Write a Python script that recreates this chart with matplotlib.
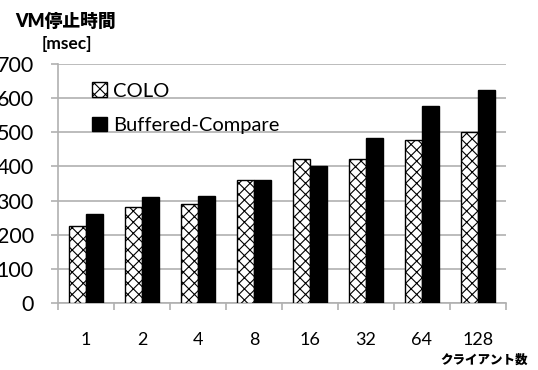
import numpy as np
import matplotlib.pyplot as plt
from matplotlib.patches import Patch

plt.rcParams['font.family'] = ['Lato', 'Noto Sans CJK JP', 'DejaVu Sans']
plt.rcParams['hatch.linewidth'] = 0.8

clients = ['1', '2', '4', '8', '16', '32', '64', '128']
colo = [226, 281, 289, 360, 421, 421, 478, 500]
buffered = [261, 309, 313, 360, 401, 482, 578, 625]

fig = plt.figure(figsize=(5.38, 3.70), dpi=100)
ax = fig.add_axes([58/538, 1-303/370, 448/538, 239/370])

x = np.arange(len(clients))
w = 0.3
ax.bar(x - w/2, colo, w, color='white', edgecolor='black', hatch='xxx', linewidth=1, label='COLO', zorder=3)
ax.bar(x + w/2, buffered, w, color='black', edgecolor='black', linewidth=1, label='Buffered-Compare', zorder=3)

ax.set_xlim(-0.5, len(clients) - 0.5)
ax.set_ylim(0, 700)
ax.set_yticks(range(0, 701, 100))
ax.yaxis.grid(True, color='#b0b0b0', linewidth=1.2, zorder=0)
ax.set_xticks(x)
ax.set_xticklabels(clients, fontsize=13)
ax.set_xticks(np.arange(-0.5, len(clients)), minor=True)
ax.tick_params(axis='x', which='major', length=0, pad=21)
ax.tick_params(axis='x', which='minor', length=5, color='#b0b0b0', width=1.2)
ax.tick_params(axis='y', length=5, color='#b0b0b0', width=1.2, labelsize=15.5, pad=12.5)
for s in ['top', 'right']:
    ax.spines[s].set_visible(False)
for s in ['left', 'bottom']:
    ax.spines[s].set_color('#b0b0b0')
    ax.spines[s].set_linewidth(1.2)

handles = [Patch(facecolor='white', edgecolor='black', hatch='xxx', label='COLO'),
           Patch(facecolor='black', edgecolor='black', label='Buffered-Compare')]
ax.legend(handles=handles, loc='upper left', bbox_to_anchor=(0.035, 1.0), frameon=False,
          fontsize=14.5, handlelength=0.75, handleheight=0.75, handletextpad=0.3, labelspacing=0.85)

fig.text(15/538, 1-21/370, 'VM停止時間', fontsize=12.8, fontweight='heavy', va='center', ha='left')
fig.text(42/538, 1-44/370, '[msec]', fontsize=12.5, fontweight='bold', va='center', ha='left')
fig.text(528/538, 1-360/370, 'クライアント数', fontsize=9, fontweight='heavy', va='center', ha='right')

fig.savefig('out.png', dpi=100)
